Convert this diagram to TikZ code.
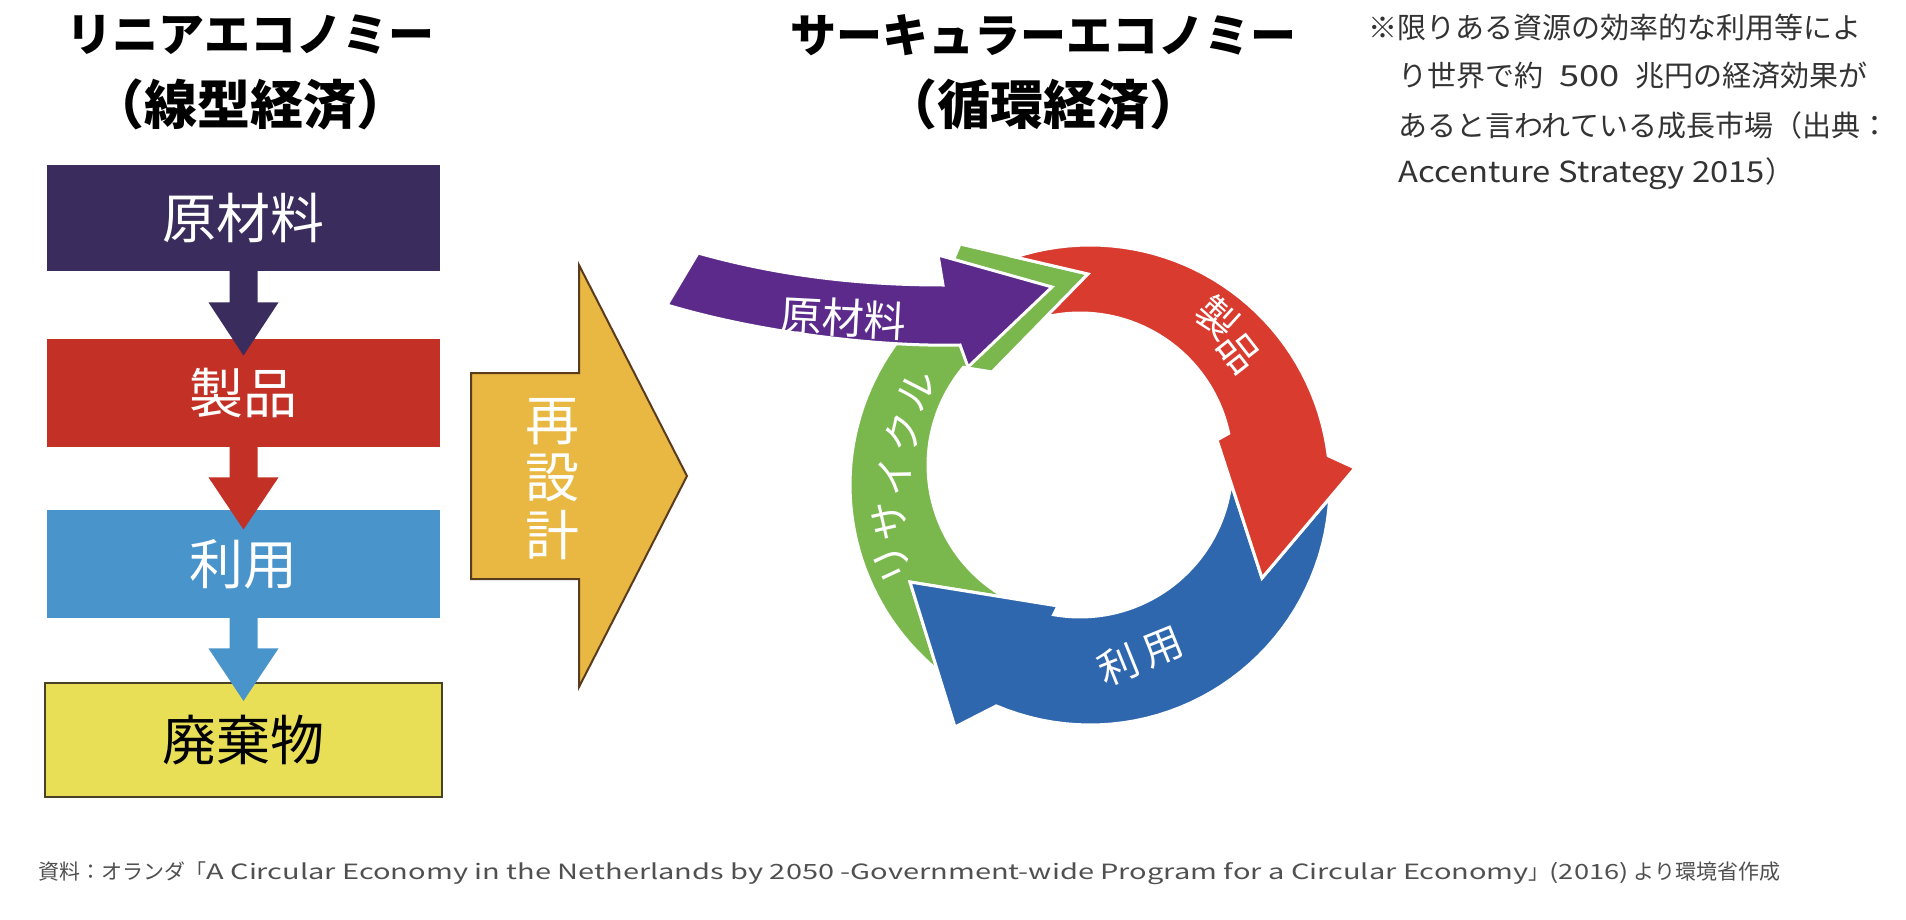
\documentclass[tikz,border=0pt]{standalone}
\usepackage{fontspec}
\setmainfont{Noto Sans CJK JP}
\usetikzlibrary{calc}
\definecolor{lpurple}{HTML}{3A2C5C}
\definecolor{lred}{HTML}{C33126}
\definecolor{lblue}{HTML}{4A94CC}
\definecolor{lyellow}{HTML}{E8DF56}
\definecolor{lyline}{HTML}{4A4225}
\definecolor{gold}{HTML}{E9B842}
\definecolor{goldline}{HTML}{5A3B1E}
\definecolor{cpurple}{HTML}{5B2A8B}
\definecolor{cgreen}{HTML}{7AB84E}
\definecolor{cred}{HTML}{D93B2F}
\definecolor{cblue}{HTML}{2F67AE}
\definecolor{notegray}{HTML}{333333}
\definecolor{footgray}{HTML}{505050}
\begin{document}
\begin{tikzpicture}[x=0.5pt,y=-0.5pt,
  title/.style={font=\bfseries\fontsize{23}{23}\selectfont, inner sep=0pt},
  titleb/.style={font=\bfseries\fontsize{26.5}{26.5}\selectfont, inner sep=0pt},
  lbox/.style={minimum width=196.5pt, inner sep=0pt, font=\fontsize{27}{27}\selectfont},
  cyc/.style={font=\fontsize{20}{20}\selectfont, text=white, inner sep=0pt},
  band/.style={draw=white, line width=1.5pt, line join=miter},
  note/.style={anchor=west, font=\fontsize{14.5}{14.5}\selectfont, text=notegray, inner sep=0pt},
  vch/.style={font=\fontsize{27}{27}\selectfont, text=white, inner sep=0pt}
]
\useasboundingbox (0,0) rectangle (1906,920);
\fill[white] (0,0) rectangle (1906,920);

% titles
\node[title] (t1) at (250,35) {リニアエコノミー};
\node[titleb] (t2) at (250,104) {（線型経済）};
\node[title] (t3) at (1043,35) {サーキュラーエコノミー};
\node[titleb] (t4) at (1043,104) {（循環経済）};

% linear economy boxes
\node[lbox, fill=lpurple, text=white, minimum height=53pt] (b1) at (243.5,218) {原材料};
\node[lbox, fill=lred, text=white, minimum height=54pt] (b2) at (243.5,393) {製品};
\node[lbox, fill=lblue, text=white, minimum height=54pt] (b3) at (243.5,564) {利用};
\node[lbox, fill=lyellow, draw=lyline, line width=1pt, text=black, minimum height=57pt, minimum width=198.5pt] (b4) at (243.5,740) {廃棄物};

% block arrows between boxes
\fill[lpurple] ($(b1.south)+(-14,-1)$) -- ($(b1.south)+(-14,31)$) -- ($(b1.south)+(-35,31)$)
  -- ($(b2.north)+(0,17)$) -- ($(b1.south)+(35,31)$) -- ($(b1.south)+(14,31)$) -- ($(b1.south)+(14,-1)$) -- cycle;
\fill[lred] ($(b2.south)+(-14,-1)$) -- ($(b2.south)+(-14,30)$) -- ($(b2.south)+(-35,30)$)
  -- ($(b3.north)+(0,20)$) -- ($(b2.south)+(35,30)$) -- ($(b2.south)+(14,30)$) -- ($(b2.south)+(14,-1)$) -- cycle;
\fill[lblue] ($(b3.south)+(-14,-1)$) -- ($(b3.south)+(-14,30)$) -- ($(b3.south)+(-35,30)$)
  -- ($(b4.north)+(0,19)$) -- ($(b3.south)+(35,30)$) -- ($(b3.south)+(14,30)$) -- ($(b3.south)+(14,-1)$) -- cycle;

% redesign arrow
\filldraw[fill=gold, draw=goldline, line width=1pt, line join=miter]
  (471,373) -- (579,373) -- (579,265) -- (687,476) -- (579,687) -- (579,579) -- (471,579) -- cycle;
\node[vch] (r1) at (552,422) {再};
\node[vch] (r2) at (552,478) {設};
\node[vch] (r3) at (552,535) {計};

% circular economy
% green (recycle)
\fill[cgreen, band] (910,582) -- (937.4,670.2)
  -- plot[domain=129.5:220, samples=40, variable=\t] ({1090+240*cos(\t)},{485+240*sin(\t)})
  -- (940,292) -- (960,244) -- (1088,274) -- (992,372)
  -- plot[domain=220:119.4, samples=40, variable=\t] ({1080+152*cos(\t)},{465+152*sin(\t)}) -- cycle;
% blue (use)
\fill[cblue, band]
  plot[domain=3.1:113, samples=40, variable=\t] ({1090+240*cos(\t)},{485+240*sin(\t)})
  -- (955,727) -- (910,582) -- (1058,606)
  -- plot[domain=100:6.8, samples=40, variable=\t] ({1080+152*cos(\t)},{465+152*sin(\t)})
  -- (1262,578) -- cycle;
% red (product)
\fill[cred, band]
  plot[domain=-108.2:-7, samples=40, variable=\t] ({1090+240*cos(\t)},{485+240*sin(\t)})
  -- (1355,468) -- (1262,578) -- (1217,440)
  -- plot[domain=-12:-102.9, samples=40, variable=\t] ({1080+152*cos(\t)},{465+152*sin(\t)})
  -- (1088,274) -- cycle;
% purple (raw material)
\fill[cpurple, band] (698,253) .. controls (780,276) and (860,285) .. (943,285)
  -- (938,255) -- (1052,287) -- (968,367) -- (960,345)
  .. controls (880,347) and (760,333) .. (667,305) -- cycle;

\node[cyc, rotate=-3, font=\fontsize{21}{21}\selectfont] (p1) at (843,318) {原材料};
\node[cyc, rotate=-42] (s1) at (1217,318) {製};
\node[cyc, rotate=-52] (s2) at (1239,352) {品};
\node[cyc, rotate=22] (u1) at (1118,665) {利};
\node[cyc, rotate=22] (u2) at (1163,647) {用};
\node[cyc, rotate=115] (g1) at (893,563) {リ};
\node[cyc, rotate=103] (g2) at (890,520) {サ};
\node[cyc, rotate=91] (g3) at (895,477) {イ};
\node[cyc, rotate=77] (g4) at (903,433) {ク};
\node[cyc, rotate=63] (g5) at (917,390) {ル};

% note
\node[note] (n1) at (1368,27) {※限りある資源の効率的な利用等によ};
\node[note] (n2) at (1398,76) {り世界で約\hspace{8pt}\scalebox{1.25}[1]{500}\hspace{8pt}兆円の経済効果が};
\node[note] (n3) at (1398,125) {あると言われている成長市場（出典：};
\node[note] (n4) at (1398,174) {\scalebox{1.13}[1]{Accenture Strategy 2015}）};

% footer
\node[anchor=west, inner sep=0pt, text=footgray, font=\fontsize{10.5}{10.5}\selectfont] (f) at (38,873)
  {資料：オランダ「\scalebox{1.38}[1]{A Circular Economy in the Netherlands by 2050 -Government-wide Program for a Circular Economy}」\scalebox{1.3}[1]{(2016)} より環境省作成};
\end{tikzpicture}
\end{document}
